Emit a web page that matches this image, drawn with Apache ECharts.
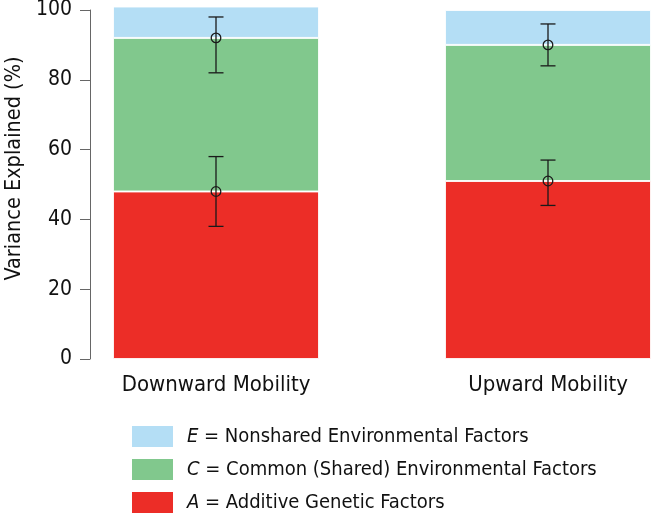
<!DOCTYPE html>
<html>
<head>
<meta charset="utf-8">
<script src="https://cdn.jsdelivr.net/npm/echarts@6/dist/echarts.min.js"></script>
<style>html,body{margin:0;padding:0;background:#fff}#c{width:660px;height:514px}</style>
</head>
<body>
<div id="c"></div>
<script>
const categories = ['Downward Mobility', 'Upward Mobility'];
const additive = [48, 51];
const common = [44, 39];
const nonshared = [9, 10];
const pointA = [48, 51];
const lowA = [38, 44];
const highA = [58, 57];
const pointAC = [92, 90];
const lowAC = [82, 84];
const highAC = [98, 96];
const yTicks = [0, 20, 40, 60, 80, 100];

const FONT = '"Liberation Sans Narrow", "DejaVu Sans Condensed", "Liberation Sans", sans-serif';

const chart = echarts.init(document.getElementById('c'), null, {renderer: 'canvas'});

function barSeries(name, values, color) {
  return {
    name: name, type: 'bar', stack: 'v', clip: false,
    barWidth: 206,
    itemStyle: {color: color, borderColor: 'rgba(255,255,255,0.85)', borderWidth: 1},
    emphasis: {disabled: true},
    data: values,
    z: 2
  };
}

const errData = [];
categories.forEach((c, i) => {
  errData.push([i, pointA[i], lowA[i], highA[i]]);
  errData.push([i, pointAC[i], lowAC[i], highAC[i]]);
});

const option = {
  animation: false,
  grid: {left: 50, right: -54, top: 10, bottom: 155, containLabel: false, outerBoundsMode: 'none'},
  legend: {
    orient: 'vertical', left: 132, top: 426, padding: 0,
    itemWidth: 41, itemHeight: 21, itemGap: 12,
    icon: 'rect',
    data: ['E', 'C', 'A'],
    itemStyle: {borderWidth: 0},
    selectedMode: false,
    formatter: function (n) {
      const t = {E: 'Nonshared Environmental Factors', C: 'Common (Shared) Environmental Factors', A: 'Additive Genetic Factors'};
      return '{i|' + n + '}{t| = ' + t[n] + '}';
    },
    textStyle: {
      fontFamily: FONT, fontSize: 20, color: '#111', padding: [0, 0, 0, 9], lineHeight: 21,
      rich: {
        i: {fontFamily: FONT, fontSize: 20, fontStyle: 'italic', color: '#111', lineHeight: 21},
        t: {fontFamily: FONT, fontSize: 20, color: '#111', lineHeight: 21}
      }
    }
  },
  xAxis: {
    type: 'category', data: categories,
    axisLine: {show: false}, axisTick: {show: false}, splitLine: {show: false},
    axisLabel: {fontFamily: FONT, fontSize: 22, color: '#111', margin: 15}
  },
  yAxis: {
    type: 'value', min: 0, max: 100, interval: 20, offset: -40,
    name: 'Variance Explained (%)', nameLocation: 'middle', nameGap: 65,
    nameRotate: 90,
    nameTextStyle: {fontFamily: FONT, fontSize: 21.5, color: '#111', padding: [0, 0, 0, 32]},
    axisLine: {show: true, lineStyle: {color: '#666', width: 1}},
    axisTick: {show: true, length: 10, lineStyle: {color: '#666'}},
    splitLine: {show: false},
    axisLabel: {fontFamily: FONT, fontSize: 21, color: '#111', margin: 18,
      formatter: v => yTicks.indexOf(v) >= 0 ? String(v) : ''}
  },
  series: [
    barSeries('A', additive, '#ec2d27'),
    barSeries('C', common, '#81c88d'),
    barSeries('E', nonshared, '#b4def5'),
    {
      type: 'custom', name: 'err', z: 10, clip: false,
      data: errData,
      renderItem: function (params, api) {
        const x = api.value(0);
        const pt = api.coord([x, api.value(1)]);
        const lo = api.coord([x, api.value(2)]);
        const hi = api.coord([x, api.value(3)]);
        const st = {stroke: '#1a1a1a', lineWidth: 1.3};
        const cw = 7.5;
        return {
          type: 'group',
          children: [
            {type: 'line', shape: {x1: lo[0], y1: lo[1], x2: hi[0], y2: hi[1]}, style: st},
            {type: 'line', shape: {x1: lo[0] - cw, y1: lo[1], x2: lo[0] + cw, y2: lo[1]}, style: st},
            {type: 'line', shape: {x1: hi[0] - cw, y1: hi[1], x2: hi[0] + cw, y2: hi[1]}, style: st},
            {type: 'circle', shape: {cx: pt[0], cy: pt[1], r: 4.8}, style: {stroke: '#1a1a1a', lineWidth: 1.3, fill: 'none'}}
          ]
        };
      }
    }
  ]
};
chart.setOption(option);
</script>
</body>
</html>
